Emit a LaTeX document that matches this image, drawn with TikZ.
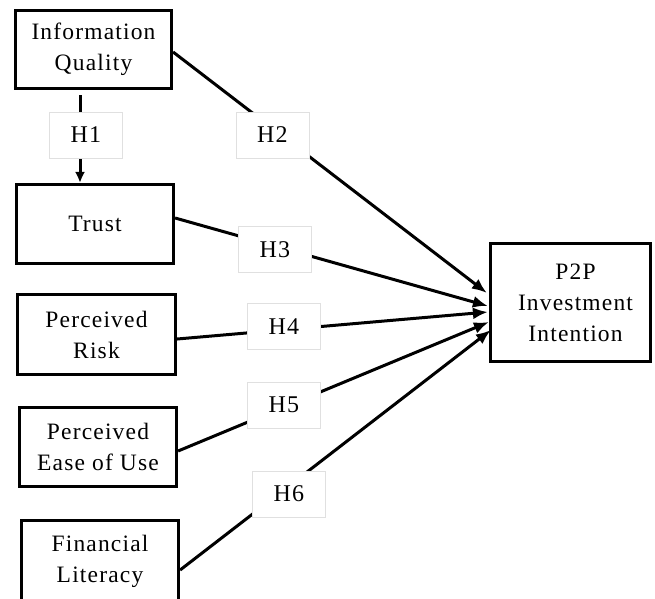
\documentclass[tikz,border=0pt]{standalone}
\usepackage{fontspec}
\setmainfont[LetterSpace=5]{Liberation Serif}
\usetikzlibrary{arrows.meta,calc}
\begin{document}
\begin{tikzpicture}[x=1pt,y=-1pt,
 box/.style={draw=black, line width=3.2pt, align=center, inner sep=0pt,
   font=\fontsize{23.5}{31}\selectfont},
 hlab/.style={draw=black!12, line width=0.8pt, fill=white, minimum width=73pt,
   minimum height=46pt, inner sep=0pt, font=\fontsize{24}{28}\selectfont},
 link/.style={line width=3pt, -{Latex[length=15pt,width=12pt]}},
 linksm/.style={line width=3pt, -{Latex[length=11pt,width=10pt]}},
]
\useasboundingbox (0,0) rectangle (655,598);
\fill[white] (0,0) rectangle (655,598);

% construct boxes
\node[box, minimum width=156pt, minimum height=78pt] (iq) at (93.5,49.5) {Information\\Quality};
\node[box, minimum width=157pt, minimum height=79pt] (trust) at (95,224) {Trust};
\node[box, minimum width=158pt, minimum height=80pt] (pr) at (96.5,334.5) {Perceived\\Risk};
\node[box, minimum width=157pt, minimum height=79pt] (peu) at (98,447) {Perceived\\Ease of Use};
\node[box, minimum width=157pt, minimum height=81pt] (fl) at (100,561) {Financial\\Literacy};
\node[box, minimum width=160pt, minimum height=118pt] (p2p) at (570.5,302.5) {\hspace*{10pt}P2P\\\hspace*{10pt}Investment\\\hspace*{10pt}Intention};

% connectors
\draw[linksm] ($(iq.south)+(-13.5,5)$) -- ($(trust.north)+(-15,0)$);
\draw[link] ($(iq.east)+(0,2.5)$) -- ($(p2p.west)+(-2,-9.5)$);
\draw[link] ($(trust.east)+(0,-6)$) -- ($(p2p.west)+(-1,3.5)$);
\draw[link] ($(pr.east)+(0,4.5)$) -- ($(p2p.west)+(-1,9.5)$);
\draw[link] ($(peu.east)+(0,4)$) -- ($(p2p.west)+(0,19.5)$);
\draw[link] ($(fl.east)+(0,9)$) -- ($(p2p.west)+(2,27.5)$);

% hypothesis labels
\node[hlab] (h1) at (86,135) {H1};
\node[hlab] (h2) at (272.5,135) {H2};
\node[hlab] (h3) at (275,249.5) {H3};
\node[hlab] (h4) at (284,326.5) {H4};
\node[hlab] (h5) at (284,405) {H5};
\node[hlab] (h6) at (289,494) {H6};
\end{tikzpicture}
\end{document}
